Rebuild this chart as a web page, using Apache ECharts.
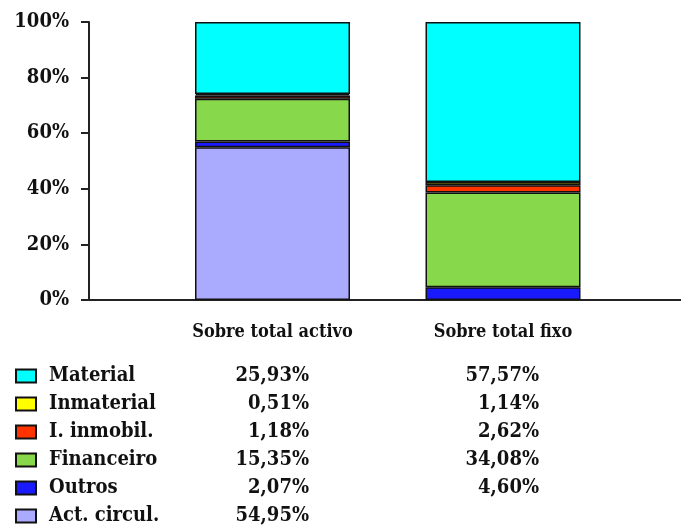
<!DOCTYPE html>
<html>
<head>
<meta charset="utf-8">
<script src="https://cdn.jsdelivr.net/npm/echarts@6/dist/echarts.min.js"></script>
<style>
  html, body { margin: 0; padding: 0; background: #fff; }
  #chart { width: 681px; height: 525px; }
</style>
</head>
<body>
<div id="chart"></div>
<script>
// Composition of assets, two bases
const categories = ['Sobre total activo', 'Sobre total fixo'];

// Share of each item (percent), per base
const material   = [25.93, 57.57];
const inmaterial = [0.51, 1.14];
const inmobil    = [1.18, 2.62];
const financeiro = [15.35, 34.08];
const outros     = [2.07, 4.60];
const actCircul  = [54.95, null];

const yTickValues = [0, 20, 40, 60, 80, 100];

// Series listed bottom-up in the stack
const items = [
  { name: 'Act. circul.', values: actCircul,  color: '#AAAAFF' },
  { name: 'Outros',       values: outros,     color: '#1A1AFF' },
  { name: 'Financeiro',   values: financeiro, color: '#88D84B' },
  { name: 'I. inmobil.',  values: inmobil,    color: '#FF3300' },
  { name: 'Inmaterial',   values: inmaterial, color: '#FFFF00' },
  { name: 'Material',     values: material,   color: '#00FFFF' }
];
// Table rows top-down
const tableOrder = ['Material', 'Inmaterial', 'I. inmobil.', 'Financeiro', 'Outros', 'Act. circul.'];

const FONT = "'DejaVu Serif Condensed', 'Liberation Serif', serif";
const fmt = v => (v == null ? '' : v.toFixed(2).replace('.', ',') + '%');

const chart = echarts.init(document.getElementById('chart'), null, { renderer: 'canvas' });

const byName = {};
items.forEach(it => { byName[it.name] = it; });

chart.setOption({
  animation: false,
  backgroundColor: '#fff',
  textStyle: { fontFamily: FONT },
  grid: [
    // frame with the percent axis and baseline
    { left: 89, right: 0, top: 22, bottom: 225 },
    // bars
    { left: 157.25, right: 62.75, top: 22, bottom: 225 }
  ],
  xAxis: [
    {
      gridIndex: 0, type: 'value', min: 0, max: 1,
      axisLine: { show: true, lineStyle: { color: '#222', width: 2 } },
      axisTick: { show: false }, axisLabel: { show: false }, splitLine: { show: false }
    },
    {
      gridIndex: 1, type: 'category', data: categories,
      axisLine: { show: false }, axisTick: { show: false },
      axisLabel: { color: '#111', fontFamily: FONT, fontWeight: 'bold', fontSize: 18, margin: 23 }
    }
  ],
  yAxis: [
    {
      gridIndex: 0, type: 'value', min: yTickValues[0], max: yTickValues[yTickValues.length - 1], interval: 20,
      axisLine: { show: true, lineStyle: { color: '#222', width: 2 } },
      axisTick: { show: true, length: 8, lineStyle: { color: '#222', width: 2 } },
      axisLabel: { color: '#111', fontFamily: FONT, fontWeight: 'bold', fontSize: 20, margin: 20, formatter: '{value}%' },
      splitLine: { show: false }
    },
    { gridIndex: 1, type: 'value', min: 0, max: 100, show: false }
  ],
  legend: {
    orient: 'vertical',
    left: 15, top: 366,
    width: 600, height: 200,
    padding: 0,
    itemWidth: 20, itemHeight: 13, itemGap: 8,
    icon: 'rect',
    selectedMode: false,
    data: tableOrder,
    formatter: name => {
      const v = byName[name].values;
      return '{n|' + name + '}{a|' + fmt(v[0]) + '}{b|' + fmt(v[1]) + '}';
    },
    textStyle: {
      color: '#111', fontFamily: FONT, fontWeight: 'bold', fontSize: 20,
      rich: {
        n: { width: 138, padding: [0, 0, 0, 8], fontFamily: FONT, fontWeight: 'bold', fontSize: 20 },
        a: { width: 122, align: 'right', fontFamily: FONT, fontWeight: 'bold', fontSize: 20 },
        b: { width: 230, align: 'right', fontFamily: FONT, fontWeight: 'bold', fontSize: 20 }
      }
    }
  },
  series: items.map(it => ({
    name: it.name,
    type: 'bar',
    stack: 'total',
    xAxisIndex: 1, yAxisIndex: 1,
    barWidth: 155,
    data: it.values,
    itemStyle: { color: it.color, borderColor: '#111', borderWidth: 1.5 }
  }))
});
</script>
</body>
</html>
